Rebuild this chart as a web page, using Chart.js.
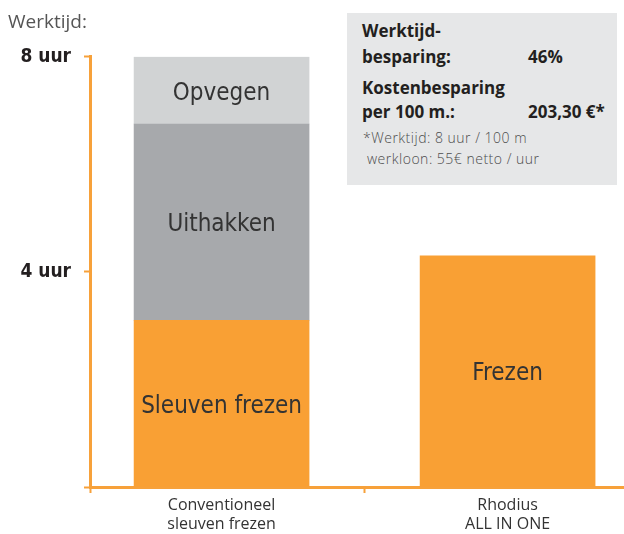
<!DOCTYPE html>
<html>
<head>
<meta charset="utf-8">
<script src="https://cdn.jsdelivr.net/npm/chart.js@4.4.0/dist/chart.umd.min.js"></script>
<style>
  html, body { margin: 0; padding: 0; background: #fff; }
  #wrap { position: relative; width: 624px; height: 534px; }
  #info {
    position: absolute; left: 347px; top: 13px; width: 270px; height: 172px;
    background: #e6e7e8; font-family: 'Open Sans', sans-serif; color: #231f20;
  }
  #info .l { position: absolute; white-space: nowrap; }
  #info .b { font-weight: 700; font-size: 17px; line-height: 17px; }
  #info .s { font-size: 14px; line-height: 14px; color: #4d4d4d; letter-spacing: 0.5px; font-weight: 300; }
</style>
</head>
<body>
<div id="wrap">
  <canvas id="chart" width="624" height="534"></canvas>
  <div id="info">
    <div class="l b" style="left:15px;top:9px">Werktijd-</div>
    <div class="l b" style="left:15px;top:35px">besparing:</div>
    <div class="l b" style="left:181px;top:35px">46%</div>
    <div class="l b" style="left:15px;top:66px">Kostenbesparing</div>
    <div class="l b" style="left:15px;top:90px">per 100 m.:</div>
    <div class="l b" style="left:181px;top:90px">203,30 €*</div>
    <div class="l s" style="left:16px;top:118px">*Werktijd: 8 uur / 100 m</div>
    <div class="l s" style="left:20px;top:139px">werkloon: 55€ netto / uur</div>
  </div>
</div>
<script>
const categories = [['Conventioneel', 'sleuven frezen'], ['Rhodius', 'ALL IN ONE']];
const sleuvenFrezen = [3.1, null];
const uithakken = [3.65, null];
const opvegen = [1.25, null];
const frezen = [null, 4.3];
const yTicks = [4, 8];

const ORANGE = '#f9a034';
const AXIS = '#f7a13a';

const toPoints = arr => arr.map((v, i) => ({ x: i, y: v })).filter(p => p.y !== null);

const segmentLabels = {
  id: 'segmentLabels',
  afterDatasetsDraw(chart) {
    const ctx = chart.ctx;
    ctx.save();
    ctx.fillStyle = '#333';
    ctx.font = "24px 'Liberation Sans Narrow', 'DejaVu Sans Condensed', sans-serif";
    ctx.textAlign = 'center';
    ctx.textBaseline = 'middle';
    chart.data.datasets.forEach((ds, di) => {
      chart.getDatasetMeta(di).data.forEach(bar => {
        ctx.fillText(ds.label, bar.x, (bar.y + bar.base) / 2 + 3);
      });
    });
    ctx.restore();
  }
};

new Chart(document.getElementById('chart'), {
  type: 'bar',
  data: {
    datasets: [
      { label: 'Sleuven frezen', data: toPoints(sleuvenFrezen), backgroundColor: ORANGE },
      { label: 'Uithakken', data: toPoints(uithakken), backgroundColor: '#a7a9ac' },
      { label: 'Opvegen', data: toPoints(opvegen), backgroundColor: '#d1d3d4' },
      { label: 'Frezen', data: toPoints(frezen), backgroundColor: ORANGE }
    ]
  },
  options: {
    responsive: false,
    animation: false,
    datasets: { bar: { barThickness: 175, borderWidth: 0 } },
    layout: { padding: { left: 8, right: 0, top: 0, bottom: 0 } },
    plugins: {
      legend: { display: false },
      tooltip: { enabled: false },
      title: {
        display: true,
        text: 'Werktijd:',
        align: 'start',
        color: '#555',
        font: { family: "'Open Sans', sans-serif", size: 19, weight: 'normal' },
        padding: { top: 11, bottom: 23 }
      }
    },
    scales: {
      x: {
        type: 'linear',
        stacked: true,
        offset: false,
        min: -0.46,
        max: 1.407,
        afterBuildTicks: axis => {
          axis.ticks = [-0.46, 0, 0.5, 1].map(v => ({ value: v }));
        },
        afterFit: scale => { scale.height = 47; },
        border: { color: AXIS, width: 3 },
        grid: {
          offset: false,
          drawOnChartArea: false,
          tickLength: 6,
          tickWidth: 2,
          tickColor: c => (c.tick && Number.isInteger(c.tick.value)) ? 'rgba(0,0,0,0)' : AXIS
        },
        ticks: {
          autoSkip: false,
          maxRotation: 0,
          padding: 3,
          color: '#333',
          font: { family: "'Open Sans', sans-serif", size: 16 },
          callback: v => Number.isInteger(v) ? categories[v] : ''
        }
      },
      y: {
        stacked: true,
        min: 0,
        max: 8,
        afterBuildTicks: axis => {
          axis.ticks = [0, ...yTicks].map(v => ({ value: v }));
        },
        afterFit: scale => { scale.width = 82; },
        border: { color: AXIS, width: 3 },
        grid: { drawOnChartArea: false, tickLength: 6, tickWidth: 2, tickColor: AXIS },
        ticks: {
          padding: 13,
          color: '#231f20',
          font: { family: "'Liberation Sans Narrow', 'DejaVu Sans Condensed', sans-serif", size: 19, weight: 'bold' },
          callback: v => v === 0 ? '' : v + ' uur'
        }
      }
    }
  },
  plugins: [segmentLabels]
});
</script>
</body>
</html>
